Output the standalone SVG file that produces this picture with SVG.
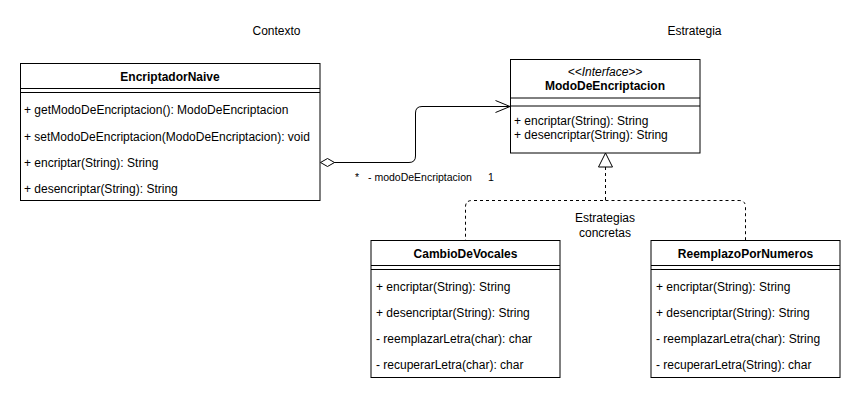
<svg xmlns="http://www.w3.org/2000/svg" width="861" height="402" viewBox="0 0 861 402">
  <style>
    text { font-family: "Liberation Sans", Arial, sans-serif; font-size: 12px; fill: #000; }
    .title { font-weight: bold; text-anchor: middle; }
    .stereo { font-style: italic; text-anchor: middle; }
    .mid { text-anchor: middle; }
    .small { font-size: 10.5px; }
    .box { fill: #fff; stroke: #000; stroke-width: 1; }
    .line { fill: none; stroke: #000; stroke-width: 1; }
    .dash { fill: none; stroke: #000; stroke-width: 1; stroke-dasharray: 3 3; }
  </style>

  <rect width="861" height="402" fill="#fff"/>

  <!-- section captions -->
  <text class="mid" x="276.5" y="35">Contexto</text>
  <text class="mid" x="694.5" y="35">Estrategia</text>

  <g id="connectors">
    <!-- aggregation: EncriptadorNaive -> ModoDeEncriptacion -->
    <path class="line" d="M334,162.5 H409 Q415.5,162.5 415.5,156 V113 Q415.5,106.5 422,106.5 H510"/>
    <polygon points="320.5,162.5 327.5,158.5 334.5,162.5 327.5,166.5" fill="#fff" stroke="#000"/>
    <polyline class="line" points="495.5,100.5 510,106.5 495.5,112.5"/>
    <text class="small" x="355" y="180.5">*</text>
    <text class="small" x="368" y="180.5">- modoDeEncriptacion</text>
    <text class="small" x="488" y="180.5">1</text>

    <!-- realization: concrete strategies -> interface -->
    <path class="dash" d="M605.5,167 V200.5 H472 Q465.5,200.5 465.5,207 V240"/>
    <path class="dash" d="M605.5,200.5 H739 Q745.5,200.5 745.5,207 V240"/>
    <polygon points="605.5,153 598.5,167 612.5,167" fill="#fff" stroke="#000"/>
    <text class="mid" x="605" y="222">Estrategias</text>
    <text class="mid" x="605" y="237">concretas</text>
  </g>

  <g id="EncriptadorNaive">
    <rect class="box" x="20.5" y="63.5" width="299.5" height="137"/>
    <line class="line" x1="20.5" y1="88.5" x2="320" y2="88.5"/>
    <line class="line" x1="20.5" y1="92.5" x2="320" y2="92.5"/>
    <text class="title" x="170" y="81">EncriptadorNaive</text>
    <text x="24" y="114">+ getModoDeEncriptacion(): ModoDeEncriptacion</text>
    <text x="24" y="140.5">+ setModoDeEncriptacion(ModoDeEncriptacion): void</text>
    <text x="24" y="167">+ encriptar(String): String</text>
    <text x="24" y="193">+ desencriptar(String): String</text>
  </g>

  <g id="ModoDeEncriptacion">
    <rect class="box" x="510.5" y="59.5" width="189.5" height="93.5"/>
    <line class="line" x1="510.5" y1="98" x2="700" y2="98"/>
    <line class="line" x1="510.5" y1="106" x2="700" y2="106"/>
    <text class="stereo" x="605" y="76">&lt;&lt;Interface&gt;&gt;</text>
    <text class="title" x="605" y="90">ModoDeEncriptacion</text>
    <text x="514" y="125">+ encriptar(String): String</text>
    <text x="514" y="139">+ desencriptar(String): String</text>
  </g>

  <g id="CambioDeVocales">
    <rect class="box" x="371" y="240.5" width="189" height="137"/>
    <line class="line" x1="371" y1="265.5" x2="560" y2="265.5"/>
    <line class="line" x1="371" y1="269.5" x2="560" y2="269.5"/>
    <text class="title" x="465.5" y="258">CambioDeVocales</text>
    <text x="376" y="291">+ encriptar(String): String</text>
    <text x="376" y="317">+ desencriptar(String): String</text>
    <text x="376" y="343">- reemplazarLetra(char): char</text>
    <text x="376" y="369">- recuperarLetra(char): char</text>
  </g>

  <g id="ReemplazoPorNumeros">
    <rect class="box" x="651" y="240.5" width="189" height="137"/>
    <line class="line" x1="651" y1="265.5" x2="840" y2="265.5"/>
    <line class="line" x1="651" y1="269.5" x2="840" y2="269.5"/>
    <text class="title" x="745.5" y="258">ReemplazoPorNumeros</text>
    <text x="656" y="291">+ encriptar(String): String</text>
    <text x="656" y="317">+ desencriptar(String): String</text>
    <text x="656" y="343">- reemplazarLetra(char): String</text>
    <text x="656" y="369">- recuperarLetra(String): char</text>
  </g>
</svg>
